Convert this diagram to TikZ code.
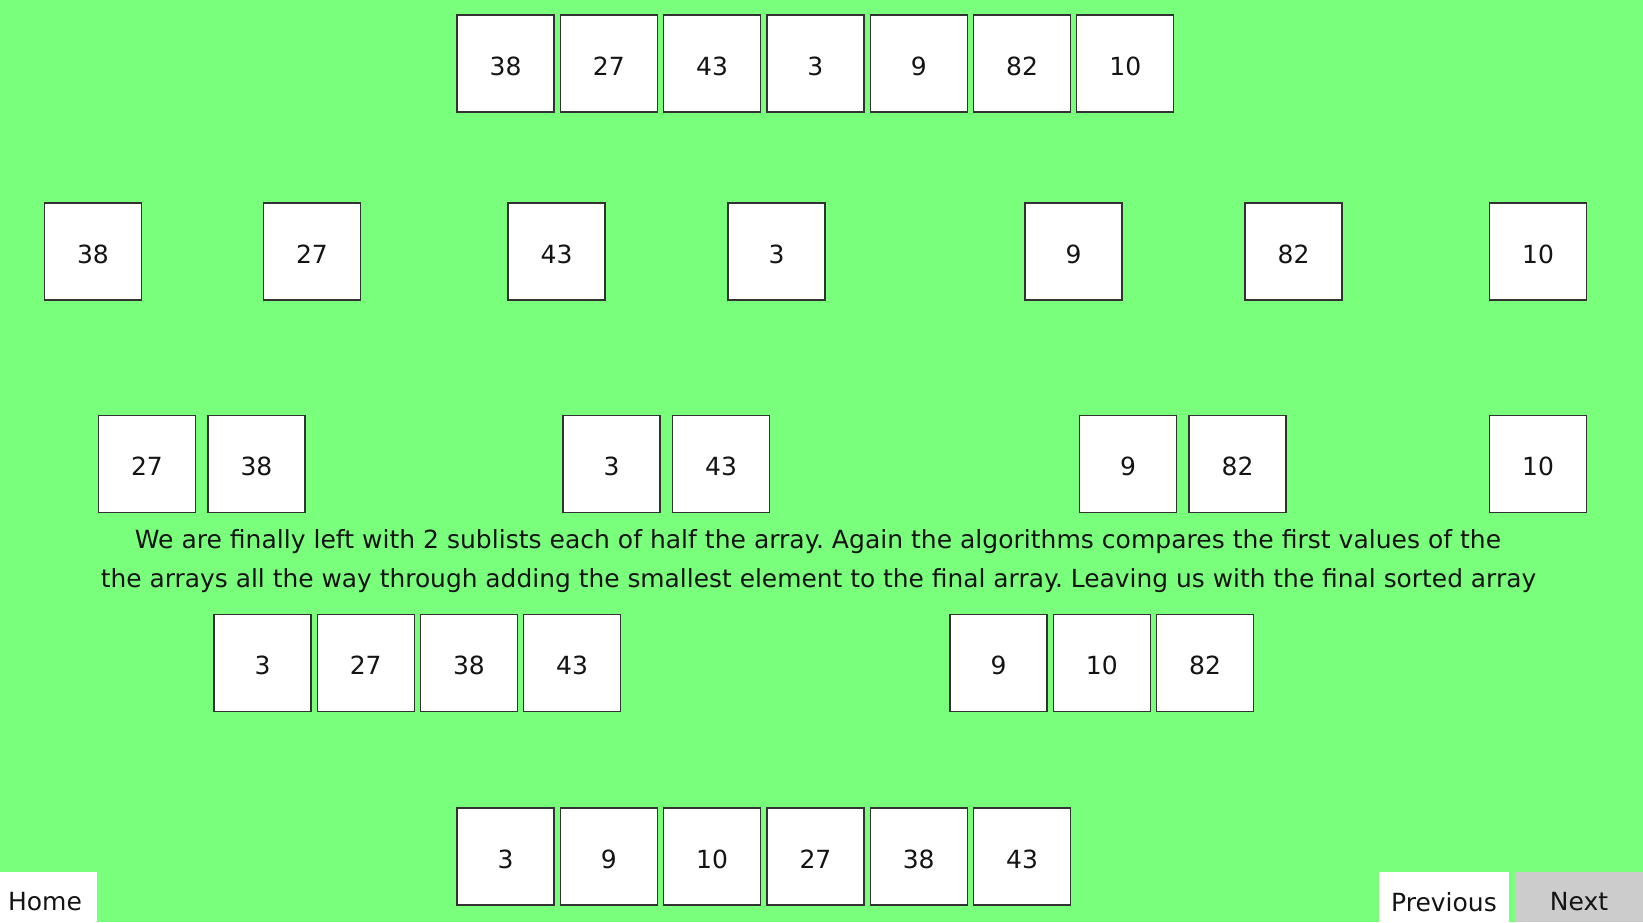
\documentclass[tikz,border=0pt]{standalone}
\usepackage{fontspec}
\setmainfont{DejaVu Sans}
\usepackage{graphicx}
\frenchspacing
\definecolor{bggreen}{RGB}{122,255,124}
\definecolor{cellborder}{RGB}{50,50,50}
\definecolor{txt}{RGB}{20,20,20}
\definecolor{nextgray}{RGB}{204,204,204}
\begin{document}
\begin{tikzpicture}[x=1pt,y=-1pt,
  cell/.style={draw=cellborder,fill=white,line width=1.3pt,minimum width=97pt,minimum height=97pt,inner sep=0pt,text=txt,text height=23pt,text depth=0pt,font=\fontsize{25}{30}\selectfont},
  para/.style={inner sep=0pt,text=txt}]
\useasboundingbox (0,0) rectangle (1643,922);
\fill[bggreen] (0,0) rectangle (1643,922);
% row 1
\foreach \v [count=\i from 0] in {38,27,43,3,9,82,10}
  \node[cell] (a\i) at (505.5+103.3*\i,63.5) {\v};
% row 2
\node[cell] (b0) at (93,251.5) {38};
\node[cell] (b1) at (312,251.5) {27};
\node[cell] (b2) at (556.5,251.5) {43};
\node[cell] (b3) at (776.5,251.5) {3};
\node[cell] (b4) at (1073.5,251.5) {9};
\node[cell] (b5) at (1293.5,251.5) {82};
\node[cell] (b6) at (1538,251.5) {10};
% row 3
\node[cell] (c0) at (147,464) {27};
\node[cell] (c1) at (256.5,464) {38};
\node[cell] (c2) at (611.5,464) {3};
\node[cell] (c3) at (721,464) {43};
\node[cell] (c4) at (1128,464) {9};
\node[cell] (c5) at (1237.5,464) {82};
\node[cell] (c6) at (1538,464) {10};
% text
\node[para] (t1) at (818,542) {\resizebox{1366pt}{!}{We are finally left with 2 sublists each of half the array. Again the algorithms compares the first values of the}};
\node[para] (t2) at (818.5,581) {\resizebox{1435pt}{!}{the arrays all the way through adding the smallest element to the final array. Leaving us with the final sorted array}};
% row 4
\foreach \v [count=\i from 0] in {3,27,38,43}
  \node[cell] (d\i) at (262.5+103.2*\i,663) {\v};
\foreach \v [count=\i from 0] in {9,10,82}
  \node[cell] (e\i) at (998.5+103.3*\i,663) {\v};
% row 5
\foreach \v [count=\i from 0] in {3,9,10,27,38,43}
  \node[cell] (f\i) at (505.5+103.3*\i,856.5) {\v};
% buttons
\fill[white] (0,872) rectangle (97,922);
\node[para,font=\fontsize{25}{30}\selectfont] (home) at (45,902) {Home};
\fill[white] (1379,872) rectangle (1509,922);
\node[para,font=\fontsize{25}{30}\selectfont] (prev) at (1444,902) {Previous};
\fill[nextgray] (1515,872) rectangle (1643,922);
\node[para,font=\fontsize{25}{30}\selectfont] (next) at (1579,902) {Next};
\end{tikzpicture}
\end{document}
